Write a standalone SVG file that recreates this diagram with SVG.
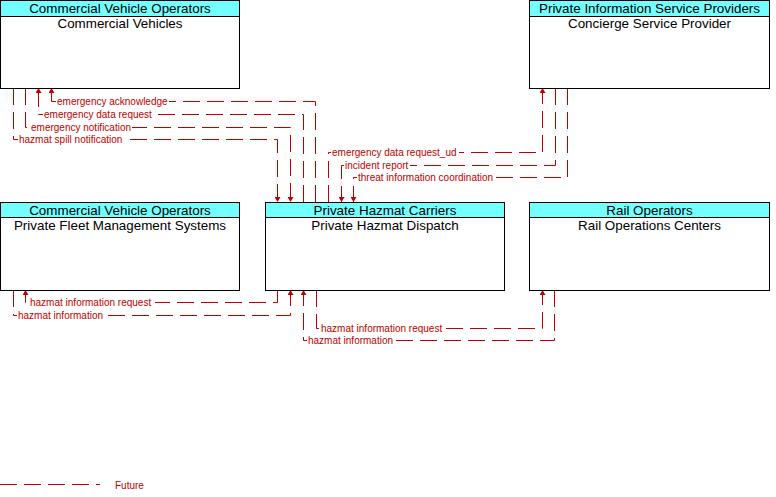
<svg xmlns="http://www.w3.org/2000/svg" width="776" height="497" viewBox="0 0 776 497">
<style>
.box{fill:#ffffff;stroke:#000000;stroke-width:1}
.hdr{fill:#73ffff;stroke:#000000;stroke-width:1}
.t{font-family:"Liberation Sans",Arial,sans-serif;font-size:13.4px;fill:#000000;text-anchor:middle}
.c{fill:none;stroke:#c00000;stroke-width:1;stroke-dasharray:17 7}
.lbl{font-family:"Liberation Sans",Arial,sans-serif;font-size:10px;fill:#c00000}
.bg{fill:#ffffff}
</style>
<defs>
<marker id="ah" markerUnits="userSpaceOnUse" markerWidth="6" markerHeight="6" refX="5" refY="3" orient="auto">
<path d="M0,0 L5,3 L0,6 z" fill="#c00000"/>
</marker>
</defs>
<rect width="776" height="497" fill="#ffffff"/>

<g id="connectors">
<path class="c" d="M13.5,88 V139.5 H277.5 V202" marker-end="url(#ah)"/>
<path class="c" d="M25.5,88 V127.5 H290.5 V202" marker-end="url(#ah)"/>
<path class="c" d="M303.5,202 V114.5 H38.5 V88" marker-end="url(#ah)"/>
<path class="c" d="M315.5,202 V101.5 H51.5 V88" marker-end="url(#ah)"/>
<path class="c" d="M328.5,202 V152.5 H542.5 V88" marker-end="url(#ah)"/>
<path class="c" d="M555.5,88 V165.5 H341.5 V202" marker-end="url(#ah)"/>
<path class="c" d="M567.5,88 V177.5 H353.5 V202" marker-end="url(#ah)"/>
<path class="c" d="M277.5,290 V302.5 H25.5 V290" marker-end="url(#ah)"/>
<path class="c" d="M13.5,290 V315.5 H290.5 V290" marker-end="url(#ah)"/>
<path class="c" d="M316.5,290 V328.5 H542.5 V290" marker-end="url(#ah)"/>
<path class="c" d="M554.5,290 V340.5 H303.5 V290" marker-end="url(#ah)"/>

<rect class="bg" x="18" y="135" width="106" height="9"/>
<text class="lbl" x="19" y="143">hazmat spill notification</text>
<rect class="bg" x="30" y="123" width="102" height="9"/>
<text class="lbl" x="31" y="131">emergency notification</text>
<rect class="bg" x="43" y="110" width="110" height="9"/>
<text class="lbl" x="44" y="118">emergency data request</text>
<rect class="bg" x="56" y="97" width="113" height="9"/>
<text class="lbl" x="57" y="105">emergency acknowledge</text>
<rect class="bg" x="331" y="148" width="128" height="9"/>
<text class="lbl" x="332" y="156">emergency data request_ud</text>
<rect class="bg" x="344" y="161" width="66" height="9"/>
<text class="lbl" x="345" y="169">incident report</text>
<rect class="bg" x="357" y="173" width="138" height="9"/>
<text class="lbl" x="358" y="181">threat information coordination</text>
<rect class="bg" x="29" y="298" width="126" height="9"/>
<text class="lbl" x="30" y="306">hazmat information request</text>
<rect class="bg" x="17" y="311" width="88" height="9"/>
<text class="lbl" x="18" y="319">hazmat information</text>
<rect class="bg" x="320" y="324" width="126" height="9"/>
<text class="lbl" x="321" y="332">hazmat information request</text>
<rect class="bg" x="307" y="336" width="88" height="9"/>
<text class="lbl" x="308" y="344">hazmat information</text>
</g>

<g id="commercial-vehicles">
<rect class="box" x="0.5" y="0.5" width="239" height="88"/>
<rect class="hdr" x="0.5" y="0.5" width="239" height="16"/>
<text class="t" x="120" y="13">Commercial Vehicle Operators</text>
<text class="t" x="120" y="27.5">Commercial Vehicles</text>
</g>

<g id="concierge-service-provider">
<rect class="box" x="529.5" y="0.5" width="240" height="88"/>
<rect class="hdr" x="529.5" y="0.5" width="240" height="16"/>
<text class="t" x="649.5" y="13">Private Information Service Providers</text>
<text class="t" x="649.5" y="27.5">Concierge Service Provider</text>
</g>

<g id="private-fleet-management-systems">
<rect class="box" x="0.5" y="202.5" width="239" height="88"/>
<rect class="hdr" x="0.5" y="202.5" width="239" height="15"/>
<text class="t" x="120" y="214.5">Commercial Vehicle Operators</text>
<text class="t" x="120" y="229.5">Private Fleet Management Systems</text>
</g>

<g id="private-hazmat-dispatch">
<rect class="box" x="265.5" y="202.5" width="239" height="88"/>
<rect class="hdr" x="265.5" y="202.5" width="239" height="15"/>
<text class="t" x="385" y="214.5">Private Hazmat Carriers</text>
<text class="t" x="385" y="229.5">Private Hazmat Dispatch</text>
</g>

<g id="rail-operations-centers">
<rect class="box" x="529.5" y="202.5" width="240" height="88"/>
<rect class="hdr" x="529.5" y="202.5" width="240" height="15"/>
<text class="t" x="649.5" y="214.5">Rail Operators</text>
<text class="t" x="649.5" y="229.5">Rail Operations Centers</text>
</g>

<g id="legend">
<line x1="0" y1="484.5" x2="100" y2="484.5" stroke="#c00000" stroke-width="1" stroke-dasharray="17 7"/>
<text class="lbl" x="115" y="489">Future</text>
</g>
</svg>
